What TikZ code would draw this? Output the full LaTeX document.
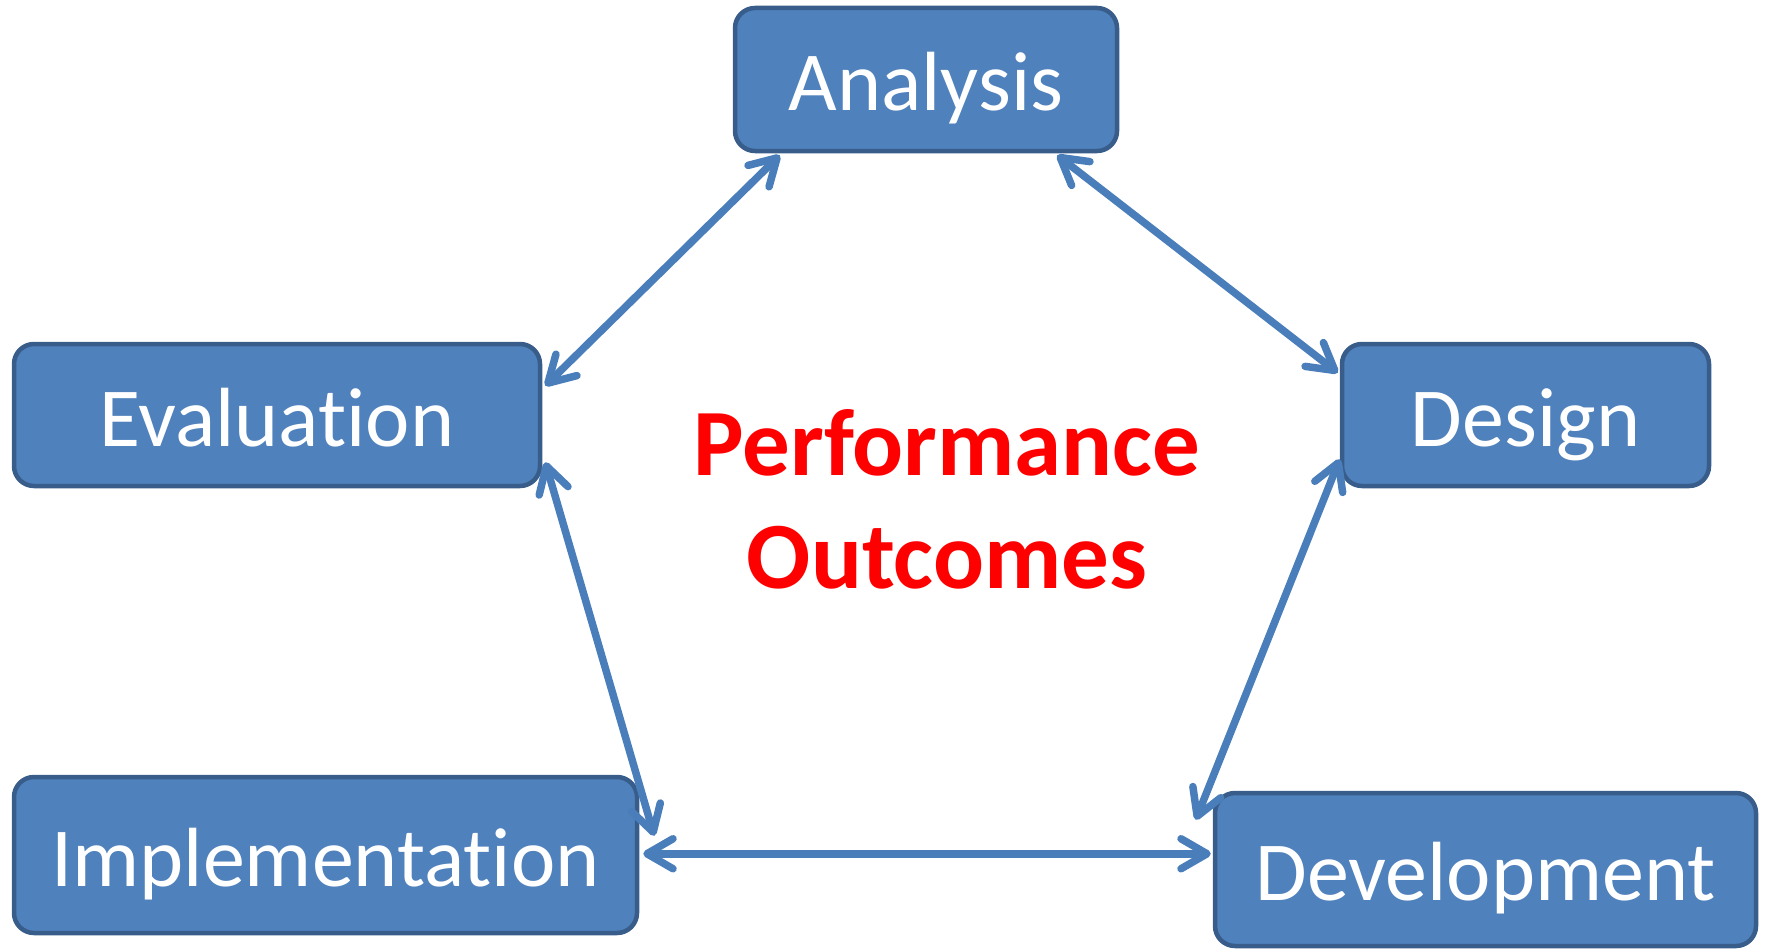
\documentclass[tikz,border=0pt]{standalone}
\usepackage{fontspec}
\setmainfont{Carlito}[Ligatures=NoCommon, RawFeature={-liga;-clig;-dlig}]
\usetikzlibrary{arrows.meta,calc}
\definecolor{boxfill}{RGB}{79,129,189}
\definecolor{boxline}{RGB}{56,93,138}
\definecolor{arrowc}{RGB}{74,126,187}
\begin{document}
\begin{tikzpicture}[x=1pt,y=-1pt,
  box/.style={draw=boxline, fill=boxfill, line width=4.5pt, rounded corners=20pt,
    text=white, font=\fontsize{84}{100}\selectfont, inner sep=0pt,
    text height=62pt, text depth=0pt},
  link/.style={draw=arrowc, line width=7.5pt,
    arrows={Straight Barb[length=26pt,width=30pt,round]-Straight Barb[length=26pt,width=30pt,round]}},
  outc/.style={text=red, font=\bfseries\fontsize{95}{113}\selectfont, anchor=base, inner sep=0pt}]
\useasboundingbox (0,0) rectangle (1766,950);
\node[box, minimum width=382pt, minimum height=143pt] (ana) at (926,79.5) {Analysis};
\node[box, minimum width=526pt, minimum height=142pt] (eva) at (277,415) {Evaluation};
\node[box, minimum width=367pt, minimum height=142pt] (des) at (1525.5,415) {Design};
\node[box, minimum width=623pt, minimum height=156pt] (imp) at (325.5,855) {Implementation};
\node[box, minimum width=541pt, minimum height=153pt] (dev) at (1485.5,869.5) {Development};
\node[outc] (po1) at (947,475) {Performance};
\node[outc] (po2) at (947,588) {Outcomes};
\draw[link] ($(ana.south west)+(47,2)$) -- ($(eva.north east)+(3,44)$);
\draw[link] ($(ana.south east)+(-62,2)$) -- ($(des.north west)+(-2,31)$);
\draw[link] ($(des.south west)+(0,-29)$) -- ($(dev.north west)+(-17,29)$);
\draw[link] ($(dev.north west)+(-2,63)$) -- ($(imp.north east)+(4,79)$);
\draw[link] ($(imp.north east)+(15,61)$) -- ($(eva.south east)+(3,-26)$);
\end{tikzpicture}
\end{document}
